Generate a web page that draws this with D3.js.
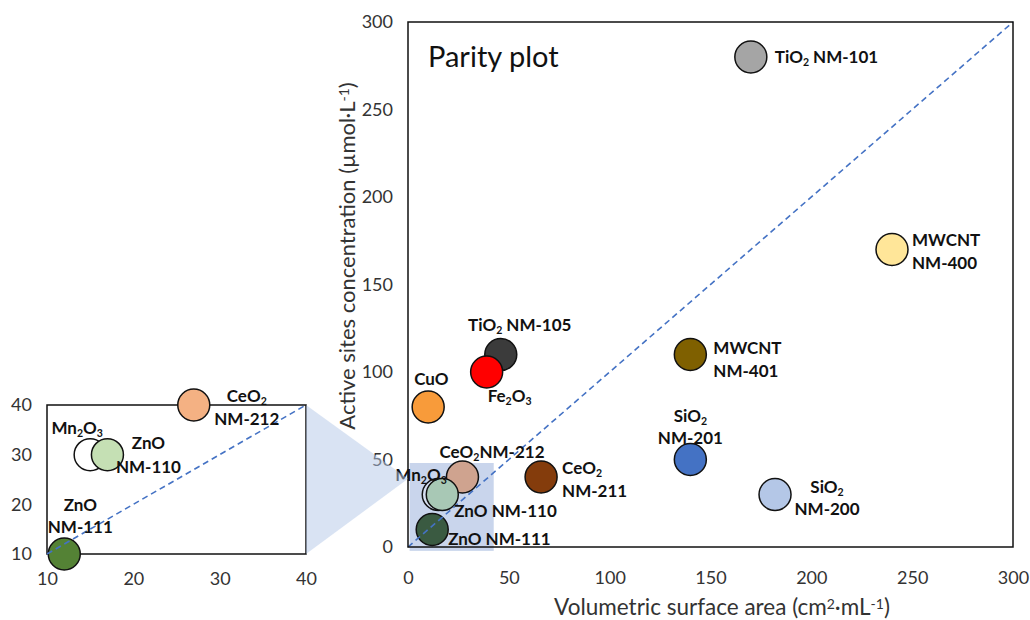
<!DOCTYPE html>
<html><head><meta charset="utf-8">
<script src="https://cdn.jsdelivr.net/npm/d3@7"></script>
<style>
body{margin:0;background:#fff}
text{font-family:Lato,'Open Sans',sans-serif}
</style>
</head><body>
<svg id="chart" width="1030" height="620"></svg>
<script>
// ---------- data ----------
const mainNames  = ["TiO2 NM-101","MWCNT NM-400","MWCNT NM-401","SiO2 NM-201","SiO2 NM-200","TiO2 NM-105","Fe2O3","CuO","CeO2 NM-211","CeO2 NM-212","Mn2O3","ZnO NM-110","ZnO NM-111"];
const mainX      = [170, 240, 140, 140, 182, 46, 39, 10, 66, 27, 15, 17, 12];
const mainY      = [280, 170, 110, 50, 30, 110, 100, 80, 40, 40, 30, 30, 10];
const mainLabels = ["TiO{2} NM-101","MWCNT\nNM-400","MWCNT\nNM-401","SiO{2}\nNM-201","SiO{2}\nNM-200","TiO{2} NM-105","Fe{2}O{3}","CuO","CeO{2}\nNM-211","CeO{2}NM-212","Mn{2}O{3}","ZnO NM-110","ZnO NM-111"];

const insetNames  = ["CeO2 NM-212","Mn2O3","ZnO NM-110","ZnO NM-111"];
const insetX      = [27, 15, 17, 12];
const insetY      = [40, 30, 30, 10];
const insetLabels = ["CeO{2}\nNM-212","Mn{2}O{3}","ZnO\nNM-110","ZnO\nNM-111"];

const mainTicks  = [0, 50, 100, 150, 200, 250, 300];
const insetTicks = [10, 20, 30, 40];
const xTitle = ["Volumetric surface area (cm", "2", "·mL", "-1", ")"];
const yTitle = ["Active sites concentration (µmol·L", "-1", ")"];
const plotTitle = "Parity plot";

// ---------- styles ----------
const mainColors = {
  "TiO2 NM-101":"#A5A5A5","MWCNT NM-400":"#FFE699","MWCNT NM-401":"#7F6000",
  "SiO2 NM-201":"#4472C4","SiO2 NM-200":"#B4C7E7","TiO2 NM-105":"#3B3B3B",
  "Fe2O3":"#FF0000","CuO":"#F89B3A","CeO2 NM-211":"#843C0C",
  "CeO2 NM-212":"#CFA38F","Mn2O3":"#D6DFF1","ZnO NM-110":"#A8C8B5","ZnO NM-111":"#3A5A41"
};
const insetColors = {"CeO2 NM-212":"#F4B183","Mn2O3":"#FFFFFF","ZnO NM-110":"#C5E0B4","ZnO NM-111":"#548235"};
// label offsets in pixels from the marker centre: [dx, dy of first line, anchor, line height]
const mainLabelPos = {
  "TiO2 NM-101":[24,0,"start",22],"MWCNT NM-400":[20,-10,"start",23],"MWCNT NM-401":[23,-7,"start",23],
  "SiO2 NM-201":[0,-44,"middle",22],"SiO2 NM-200":[52,-8,"middle",22],"TiO2 NM-105":[19,-30,"middle",22],
  "Fe2O3":[1,24,"start",22],"CuO":[-14,-28,"start",22],"CeO2 NM-211":[21,-9,"start",23],
  "CeO2 NM-212":[-23,-25,"start",22],"Mn2O3":[-43,-20,"start",22],"ZnO NM-110":[12,16,"start",22],
  "ZnO NM-111":[16,9,"start",22]
};
const insetLabelPos = {
  "CeO2 NM-212":[53,-9,"middle",23],"Mn2O3":[-13,-27,"middle",22],
  "ZnO NM-110":[41,-12,"middle",24],"ZnO NM-111":[16,-49,"middle",22]
};

const svg = d3.select("#chart");
const R = 16;

const x = d3.scaleLinear().domain([0,300]).range([408,1013]);
const y = d3.scaleLinear().domain([0,300]).range([547,22]);
const xi = d3.scaleLinear().domain([10,40]).range([47,306]);
const yi = d3.scaleLinear().domain([10,40]).range([554,405]);

function drawLabel(g, str, px, py, pos, size){
  const [dx, dy, anchor, lh] = pos;
  str.split("\n").forEach((line, li) => {
    const t = g.append("text")
      .attr("x", px + dx).attr("y", py + dy + li*lh)
      .attr("dy", "0.36em")
      .attr("text-anchor", anchor)
      .attr("font-size", size).attr("font-weight", "bold").attr("fill", "#111");
    line.split(/(\{[^}]*\})/).filter(s => s.length).forEach(seg => {
      if (seg.startsWith("{")) {
        t.append("tspan").attr("font-size", size*0.62).attr("baseline-shift", "-25%").text(seg.slice(1,-1));
      } else {
        t.append("tspan").text(seg);
      }
    });
  });
}

// ---------- main plot ----------
svg.append("rect").attr("x", x(0)).attr("y", y(300))
  .attr("width", x(300)-x(0)).attr("height", y(0)-y(300)).attr("fill", "#fff");

// zoom highlight rectangle
svg.append("rect")
  .attr("x", x(0.8)).attr("y", y(48))
  .attr("width", x(42.5)-x(0.8)).attr("height", y(-2.2)-y(48))
  .attr("fill", "#C9D5EC");

const mg = svg.append("g");
mainNames.forEach((n, i) => {
  mg.append("circle").attr("cx", x(mainX[i])).attr("cy", y(mainY[i])).attr("r", R)
    .attr("fill", mainColors[n]).attr("stroke", "#111").attr("stroke-width", 1.5);
});

svg.append("line").attr("x1", x(0)).attr("y1", y(0)).attr("x2", x(300)).attr("y2", y(300))
  .attr("stroke", "#4472C4").attr("stroke-width", 1.6).attr("stroke-dasharray", "6,4");

const lg = svg.append("g");
mainNames.forEach((n, i) => drawLabel(lg, mainLabels[i], x(mainX[i]), y(mainY[i]), mainLabelPos[n], 17));

svg.append("rect").attr("x", x(0)).attr("y", y(300))
  .attr("width", x(300)-x(0)).attr("height", y(0)-y(300))
  .attr("fill", "none").attr("stroke", "#111").attr("stroke-width", 1.5);

// axes
const axX = svg.append("g").attr("transform", `translate(0,${y(0)})`)
  .call(d3.axisBottom(x).tickValues(mainTicks).tickSize(0).tickPadding(24));
const axY = svg.append("g").attr("transform", `translate(${x(0)},0)`)
  .call(d3.axisLeft(y).tickValues(mainTicks).tickSize(0).tickPadding(15));
[axX, axY].forEach(a => {
  a.select(".domain").remove();
  a.selectAll("text").attr("font-size", 18).attr("fill", "#333").attr("font-family", "Lato");
});

svg.append("text").attr("x", 428).attr("y", 57).attr("dy", "0.36em")
  .attr("font-size", 29).attr("fill", "#111").text(plotTitle);

// x title
const xt = svg.append("text").attr("x", 722).attr("y", 607).attr("dy", "0.36em")
  .attr("text-anchor", "middle").attr("font-size", 22.5).attr("fill", "#333");
xTitle.forEach((s, i) => {
  const sp = xt.append("tspan").text(s);
  if (i % 2 === 1) sp.attr("font-size", 14).attr("baseline-shift", "40%");
});
// y title
const yt = svg.append("text").attr("transform", "translate(347,256) rotate(-90)").attr("dy", "0.36em")
  .attr("text-anchor", "middle").attr("font-size", 22).attr("fill", "#333");
yTitle.forEach((s, i) => {
  const sp = yt.append("tspan").text(s);
  if (i % 2 === 1) sp.attr("font-size", 14).attr("baseline-shift", "40%");
});

// ---------- inset ----------
svg.append("rect").attr("x", xi(10)).attr("y", yi(40))
  .attr("width", xi(40)-xi(10)).attr("height", yi(10)-yi(40))
  .attr("fill", "#fff").attr("stroke", "#111").attr("stroke-width", 1.5);

const ig = svg.append("g");
insetNames.forEach((n, i) => {
  ig.append("circle").attr("cx", xi(insetX[i])).attr("cy", yi(insetY[i])).attr("r", R)
    .attr("fill", insetColors[n]).attr("stroke", "#111").attr("stroke-width", 1.5);
});
svg.append("line").attr("x1", xi(10)).attr("y1", yi(10)).attr("x2", xi(40)).attr("y2", yi(40))
  .attr("stroke", "#4472C4").attr("stroke-width", 1.6).attr("stroke-dasharray", "6,4");
const ilg = svg.append("g");
insetNames.forEach((n, i) => drawLabel(ilg, insetLabels[i], xi(insetX[i]), yi(insetY[i]), insetLabelPos[n], 17));

const iaX = svg.append("g").attr("transform", `translate(0,${yi(10)})`)
  .call(d3.axisBottom(xi).tickValues(insetTicks).tickSize(0).tickPadding(18));
const iaY = svg.append("g").attr("transform", `translate(${xi(10)},0)`)
  .call(d3.axisLeft(yi).tickValues(insetTicks).tickSize(0).tickPadding(15));
[iaX, iaY].forEach(a => {
  a.select(".domain").remove();
  a.selectAll("text").attr("font-size", 18).attr("fill", "#333").attr("font-family", "Lato");
});

// connecting wedge from inset to highlighted region
svg.append("path")
  .attr("d", d3.line()([[xi(40), yi(40)], [xi(40), yi(10)], [x(0), y(39)]]))
  .attr("fill", "#B4C7E7").attr("fill-opacity", 0.5);
</script>
</body></html>
